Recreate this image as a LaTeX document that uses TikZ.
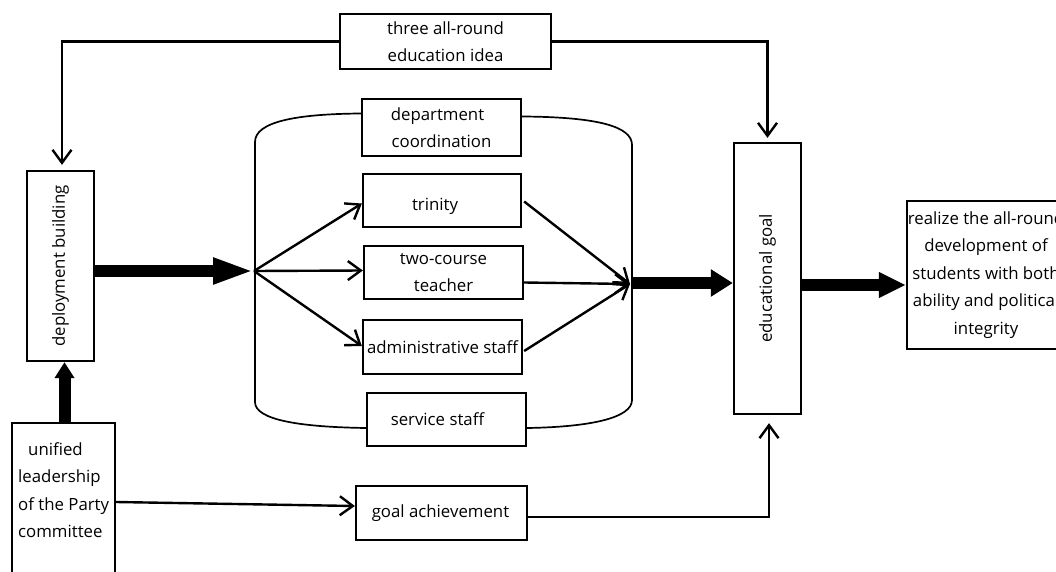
\documentclass[tikz,border=0pt]{standalone}
\usepackage{fontspec}
\usepackage{graphicx}
\setmainfont{Open Sans}
\usetikzlibrary{arrows.meta,calc}
\begin{document}
\begin{tikzpicture}[x=1pt,y=-1pt,
  box/.style={draw,line width=2.3pt,inner sep=0pt,align=center,
    font=\fontsize{16.8}{27.5}\selectfont},
  txt/.style={inner sep=0pt,font=\fontsize{16.8}{27.5}\selectfont},
  thinarrow/.style={line width=2.4pt,-{Straight Barb[length=13pt,width=19pt]}},
  fatarrow/.style={line width=12pt},
  container/.style={line width=1.7pt},
]
\useasboundingbox (0,0) rectangle (1056,572);
\clip (0,0) rectangle (1056,572);

% boxes
\node[box, minimum width=211, minimum height=55] (three) at (445.5,41.5) {three all-round\\education idea};
\node[box, minimum width=159, minimum height=57] (dept) at (441.5,127.5) {department\hspace*{8pt}\\coordination};
\node[box, minimum width=158, minimum height=53] (trinity) at (442,200.5) {\raisebox{-6pt}[\height][\depth]{trinity}\hspace*{14pt}};
\node[box, minimum width=159, minimum height=53] (two) at (443.5,272.5) {two-course\\teacher};
\node[box, minimum width=159, minimum height=54] (admin) at (442.5,347) {administrative staff};
\node[box, minimum width=159, minimum height=53] (service) at (446.5,419.5) {service staff\hspace*{18pt}};
\node[box, minimum width=171, minimum height=54] (goal) at (441.5,513) {goal achievement\hspace*{2pt}};
\node[box, minimum width=67, minimum height=190] (deploy) at (60.5,266) {\rotatebox{90}{deployment building}};
\node[box, minimum width=67, minimum height=271] (edu) at (767.5,278.5) {\rotatebox{90}{educational goal}};
\node[box, minimum width=168, minimum height=148] (realize) at (991,275) {};
\node[txt, align=center] (realizetxt) at (986,275) {realize the all-round\\development of\\students with both\\ability and political\\integrity};
\node[box, minimum width=103, minimum height=187] (unified) at (63.5,516.5) {};
\node[txt, align=left, anchor=north west] (unifiedtxt) at (18,442) {\hspace*{10pt}unified\\leadership\\of the Party\\committee};

% container
\draw[container] (dept.west) ++(0,-14) .. controls (295,114) and (255,122) .. (255,142)
  -- (255,402) .. controls (255,420) and (300,427) .. ($(service.west)+(0,8.5)$);
\draw[container] ($(dept.east)+(0,-11)$) .. controls (600,117) and (632,127) .. (632,145)
  -- (632,400) .. controls (632,418) and (590,427) .. ($(service.east)+(0,8.5)$);

% junction points
\coordinate (fan) at (254,271);
\coordinate (join) at (630,284);

% thick arrows
\draw[fatarrow,-{Triangle[length=41pt,width=24pt]}] (deploy.east |- fan) -- (fan);
\draw[fatarrow,-{Triangle[length=16pt,width=19pt]}] ($(unified.north)+(1,0)$) -- ($(unified.north |- deploy.south)+(1,0)$);
\draw[fatarrow,-{Triangle[length=22pt,width=26pt]}] ($(join)+(2,-1)$) -- ($(edu.west)+(0,4.5)$);
\draw[fatarrow,-{Triangle[length=27pt,width=24pt]}] ($(edu.east)+(0,6.5)$) -- ($(realize.west)+(0,10)$);

% thin arrows
\draw[thinarrow, shorten >=5pt] (three.west) -| ($(deploy.north)+(1.5,0)$);
\draw[thinarrow, shorten >=4pt] (three.east) -| (edu.north);
\draw[thinarrow] (fan) -- ($(trinity.west)+(0,3)$);
\draw[thinarrow] (fan) -- ($(two.west)+(0,-2)$);
\draw[thinarrow] (fan) -- ($(admin.west)+(0,-1)$);
\draw[thinarrow] ($(trinity.east)+(2,1)$) -- (join);
\draw[thinarrow] ($(two.east)+(0,10)$) -- (join);
\draw[thinarrow] ($(admin.east)+(1,4)$) -- (join);
\draw[thinarrow] ($(unified.east)+(0,-14.5)$) -- ($(goal.west)+(0,-7)$);
\draw[thinarrow, shorten >=8pt] ($(goal.east)+(0,4)$) -| ($(edu.south)+(1.5,0)$);
\end{tikzpicture}
\end{document}
